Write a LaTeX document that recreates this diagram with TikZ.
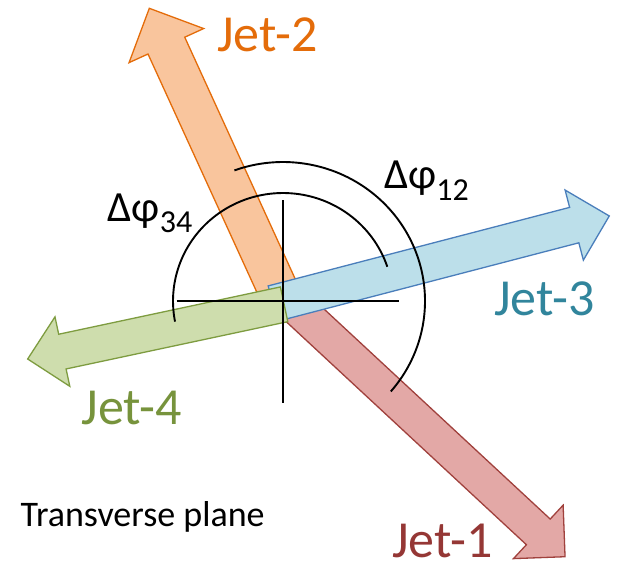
\documentclass[tikz,border=0pt]{standalone}
\usepackage{fontspec}
\setmainfont{Carlito}
\definecolor{redfill}{HTML}{E3A8A6}
\definecolor{redline}{HTML}{A0413D}
\definecolor{redtext}{HTML}{953735}
\definecolor{orangefill}{HTML}{F9C59D}
\definecolor{orangeline}{HTML}{E46C0A}
\definecolor{orangetext}{HTML}{E46C0A}
\definecolor{bluefill}{HTML}{BCDFEA}
\definecolor{blueline}{HTML}{4A7EBB}
\definecolor{bluetext}{HTML}{31859C}
\definecolor{greenfill}{HTML}{CEDDAD}
\definecolor{greenline}{HTML}{7E9C40}
\definecolor{greentext}{HTML}{77933C}
% #1 style, #2 x, #3 y, #4 angle, #5 length, #6 half shaft, #7 half head
\newcommand\jetarrow[7]{%
  \begin{scope}[shift={(#2,#3)},rotate=#4]
    \draw[#1] (0,-#6) -- ({#5-#7},-#6) -- ({#5-#7},-#7) -- (#5,0)
      -- ({#5-#7},#7) -- ({#5-#7},#6) -- (0,#6) -- cycle;
  \end{scope}}
\begin{document}
\begin{tikzpicture}[x=1pt,y=-1pt,
  jetbody/.style={line width=1.3pt, line join=miter},
  axisline/.style={line width=1.2pt, black},
  anglearc/.style={line width=1.9pt, black},
  jetlabel/.style={anchor=base, inner sep=0pt, font=\fontsize{52}{52}\selectfont},
  anglelabel/.style={anchor=base west, inner sep=0pt, font=\fontsize{43}{43}\selectfont},
  ]
\useasboundingbox (0,0) rectangle (617,571);
\fill[white] (0,0) rectangle (617,571);
% arrows
\jetarrow{jetbody, fill=redfill, draw=redline}{283.0}{294.8}{-42.88}{384.9}{17.5}{36.5}
\jetarrow{jetbody, fill=orangefill, draw=orangeline}{283.4}{301.7}{114.56}{322.6}{20.2}{41}
\jetarrow{jetbody, fill=bluefill, draw=blueline}{272.8}{303.6}{14.6}{347.7}{18.3}{36.2}
\jetarrow{jetbody, fill=greenfill, draw=greenline}{284.1}{304.3}{192.04}{262.2}{17.75}{35.5}
% crosshair
\coordinate (hl) at (176.7,301);
\coordinate (hr) at (399.3,301);
\coordinate (vt) at (283,200);
\coordinate (vb) at (283,403.3);
\draw[axisline] (hl) -- (hr);
\draw[axisline] (vt) -- (vb);
% angle arcs
\draw[anglearc] plot[domain=110:-40.6, samples=80, smooth] ({283+142*cos(\x)}, {301-139*sin(\x)});
\draw[anglearc] plot[domain=191:18.5, samples=80, smooth] ({283+110*cos(\x)}, {301-108*sin(\x)});
% labels
\node[jetlabel, text=redtext] (j1) at (442.2,557) {Jet-1};
\node[jetlabel, text=orangetext] (j2) at (267.5,51.7) {Jet-2};
\node[jetlabel, text=bluetext] (j3) at (544.2,315) {Jet-3};
\node[jetlabel, text=greentext] (j4) at (131.7,424) {Jet-4};
\node[anglelabel] (d12) at (384,188.3) {Δφ\raisebox{-11.7pt}{\fontsize{32}{32}\selectfont 12}};
\node[anglelabel] (d34) at (107.5,221) {Δφ\raisebox{-11.7pt}{\fontsize{32}{32}\selectfont 34}};
\node[anchor=base west, inner sep=0pt, font=\fontsize{36}{36}\selectfont] (tp) at (20.5,526.7) {Transverse plane};
\end{tikzpicture}
\end{document}
